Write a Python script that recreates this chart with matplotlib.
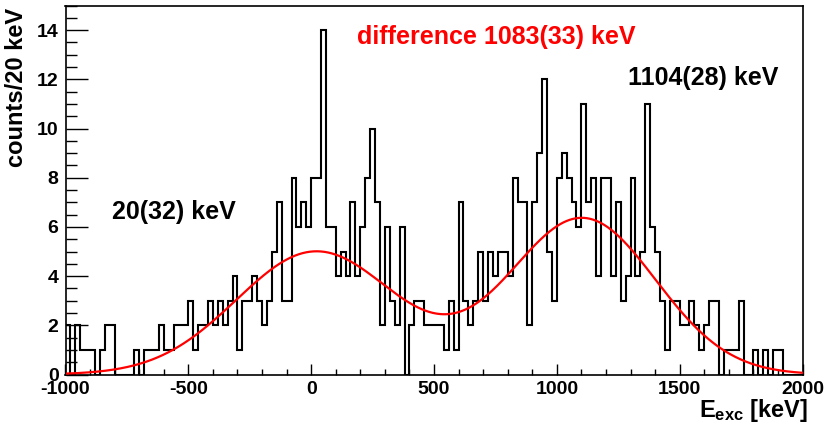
import numpy as np
import matplotlib
matplotlib.use("Agg")
import matplotlib.pyplot as plt
from matplotlib.ticker import MultipleLocator

plt.rcParams["font.family"] = ["Liberation Sans", "DejaVu Sans"]
plt.rcParams["font.weight"] = "bold"
plt.rcParams["axes.unicode_minus"] = False
plt.rcParams["mathtext.fontset"] = "custom"
plt.rcParams["mathtext.rm"] = "Liberation Sans:bold"
plt.rcParams["mathtext.it"] = "Liberation Sans:bold"
plt.rcParams["mathtext.bf"] = "Liberation Sans:bold"

# Histogram: 20 keV bins from -1000 to 2000 keV
bin_lo, bin_hi, bin_width = -1000, 2000, 20
counts = [
    2, 0, 2, 1, 1, 1, 0, 1, 2, 2,
    0, 0, 0, 0, 1, 0, 1, 1, 1, 2,
    1, 1, 2, 2, 2, 3, 1, 2, 2, 3,
    2, 3, 2, 3, 4, 1, 3, 3, 4, 3,
    2, 3, 5, 7, 3, 3, 8, 6, 7, 6,
    8, 8, 14, 6, 6, 4, 5, 4, 7, 4,
    6, 8, 10, 7, 2, 6, 3, 2, 6, 0,
    2, 3, 3, 2, 2, 2, 2, 1, 3, 1,
    7, 3, 2, 3, 5, 3, 5, 4, 5, 5,
    4, 8, 7, 7, 2, 7, 9, 12, 5, 3,
    8, 9, 8, 7, 6, 11, 7, 8, 4, 8,
    8, 4, 7, 3, 4, 8, 4, 5, 11, 6,
    5, 3, 1, 3, 3, 2, 2, 3, 2, 1,
    2, 3, 3, 0, 1, 1, 1, 3, 0, 0,
    1, 0, 1, 0, 1, 1, 0, 0, 0, 0,
]

# Two-Gaussian fit: centroids, amplitudes, widths (keV)
peak_centroids = [20, 1104]
peak_amplitudes = [5.0, 6.35]
peak_sigmas = [325, 298]

# Annotations
label_left = "20(32) keV"
label_right = "1104(28) keV"
label_diff = "difference 1083(33) keV"

x_ticks = [-1000, -500, 0, 500, 1000, 1500, 2000]
y_ticks = [0, 2, 4, 6, 8, 10, 12, 14]

W, H = 827, 430
fig = plt.figure(figsize=(W / 100, H / 100), dpi=100)
left, right, top, bottom = 65.5, 802.5, 5.5, 374.5
ax = fig.add_axes([left / W, 1 - bottom / H, (right - left) / W, (bottom - top) / H])

edges = np.arange(bin_lo, bin_hi + bin_width, bin_width)
ax.stairs(counts, edges, baseline=0, color="black", lw=1.5, zorder=3)

xf = np.linspace(bin_lo, bin_hi, 1000)
yf = np.zeros_like(xf)
for c, a, s in zip(peak_centroids, peak_amplitudes, peak_sigmas):
    yf += a * np.exp(-0.5 * ((xf - c) / s) ** 2)
ax.plot(xf, yf, color="#ff0000", lw=1.6, zorder=4)

ax.set_xlim(bin_lo, bin_hi)
ax.set_ylim(0, 15.0)
ax.set_xticks(x_ticks)
ax.set_yticks(y_ticks)
ax.xaxis.set_minor_locator(MultipleLocator(100))
ax.yaxis.set_minor_locator(MultipleLocator(0.5))
ax.tick_params(axis="both", which="both", direction="in", top=False, right=False,
               labelsize=14, width=1.0)
ax.tick_params(axis="x", which="major", length=8, pad=5)
ax.tick_params(axis="x", which="minor", length=4)
ax.tick_params(axis="y", which="major", length=16, pad=5)
ax.tick_params(axis="y", which="minor", length=8)
for lab in ax.get_xticklabels() + ax.get_yticklabels():
    lab.set_fontweight("bold")
for sp in ax.spines.values():
    sp.set_linewidth(1.2)

fig.text(17 / W, 1 - 8 / H, "counts/20 keV", rotation=90, ha="center", va="top",
         fontsize=17, fontweight="bold")
fig.text(808 / W, 1 - 411 / H, r"E$_{exc}$ [keV]", ha="right", va="center",
         fontsize=17, fontweight="bold")

ax.text(-560, 6.6, label_left, ha="center", va="center", fontsize=18, fontweight="bold")
ax.text(1596, 12.05, label_right, ha="center", va="center", fontsize=18, fontweight="bold")
ax.text(755, 13.7, label_diff, ha="center", va="center", fontsize=18, fontweight="bold",
        color="#ff0000")

fig.savefig("out.png", dpi=100)
